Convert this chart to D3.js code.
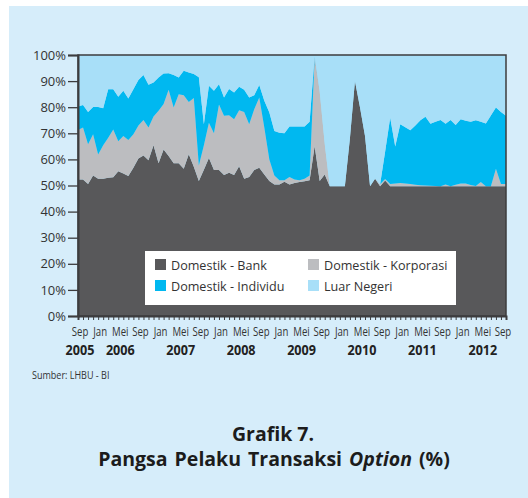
<!DOCTYPE html>
<html>
<head>
<meta charset="utf-8">
<script src="https://cdn.jsdelivr.net/npm/d3@7"></script>
<style>
  body { margin: 0; background: #fff; }
  svg { display: block; }
</style>
</head>
<body>
<div id="chart"></div>
<script>
// shares in percent, monthly from Sep 2005
var bank = [52.3, 52.3, 50.6, 53.8, 52.6, 52.6, 53.0, 53.2, 55.5, 54.6, 53.6, 56.8, 60.3, 61.5, 59.7, 65.4,
  58.5, 63.8, 61.3, 58.5, 58.5, 56.4, 62.0, 57.2, 51.7, 56.0, 60.5, 55.9, 55.9, 54.0, 54.9, 54.0,
  57.4, 52.6, 53.3, 55.9, 56.8, 54.2, 51.7, 50.4, 50.4, 51.4, 50.4, 51.0, 51.3, 51.6, 52.0, 65.0,
  51.7, 54.2, 49.7, 49.7, 49.7, 49.7, 68.0, 90.0, 80.0, 69.0, 49.7, 52.6, 49.7, 51.9, 49.7, 49.7,
  49.7, 49.7, 49.7, 49.7, 49.7, 49.7, 49.7, 49.7, 49.7, 49.7, 49.7, 49.7, 49.7, 49.7, 49.7, 49.7,
  49.7, 49.7, 49.7, 49.7, 49.7, 49.7];
var korporasi = [19.0, 19.9, 15.2, 15.8, 9.3, 12.8, 15.3, 18.3, 11.5, 14.4, 13.8, 12.8, 12.7, 13.6, 12.5, 11.0,
  20.1, 17.4, 25.4, 21.4, 26.5, 28.2, 20.0, 26.3, 6.0, 9.4, 13.5, 14.1, 25.1, 22.7, 22.0, 21.4,
  21.4, 25.6, 20.2, 23.3, 26.9, 18.0, 8.3, 3.4, 1.6, 0.6, 2.9, 1.3, 0.7, 1.0, 1.8, 34.1,
  34.3, 11.8, 0, 0, 0, 0, 0, 0, 0, 0, 0, 0, 0.8, 0.6, 0.9, 1.1,
  1.3, 1.1, 0.9, 0.6, 0.4, 0.3, 0.2, 0.1, 0, 0.7, 0, 0.6, 1.1, 1.1, 0.5, 0.1,
  1.6, 0, 0, 6.7, 0.9, 0.9];
var individu = [9.0, 8.6, 12.4, 10.5, 18.2, 14.2, 18.6, 15.4, 17.0, 17.3, 15.9, 17.3, 17.4, 17.2, 16.4, 13.1,
  12.8, 11.7, 6.3, 12.4, 6.4, 9.4, 11.3, 9.2, 33.8, 8.1, 14.2, 16.3, 7.8, 7.0, 10.1, 10.2,
  9.0, 8.5, 10.2, 5.4, 4.8, 10.3, 18.0, 17.1, 18.2, 18.0, 19.3, 20.3, 20.6, 20.0, 20.6, 0.4,
  0, 0, 0, 0, 0, 0, 0, 0, 0, 0, 0, 0, 0, 10.5, 25.4, 14.1,
  22.5, 21.5, 20.6, 22.7, 24.9, 26.3, 23.8, 24.6, 25.4, 23.3, 25.4, 22.9, 24.6, 24.0, 24.2, 25.2,
  23.1, 24.1, 27.1, 23.5, 27.6, 26.1];
var luarNegeri = [19.7, 19.2, 21.8, 19.9, 19.9, 20.4, 13.1, 13.1, 16.0, 13.7, 16.7, 13.1, 9.6, 7.7, 11.4, 10.5,
  8.6, 7.1, 7.0, 7.7, 8.6, 6.0, 6.7, 7.3, 8.5, 26.5, 11.8, 13.7, 11.2, 16.3, 13.0, 14.4,
  12.2, 13.3, 16.3, 15.4, 11.5, 17.5, 22.0, 29.1, 29.8, 30.0, 27.4, 27.4, 27.4, 27.4, 25.6, 0.5,
  14.0, 34.0, 50.3, 50.3, 50.3, 50.3, 32.0, 10.0, 20.0, 31.0, 50.3, 47.4, 49.5, 37.0, 24.0, 35.1,
  26.5, 27.7, 28.8, 27.0, 25.0, 23.7, 26.3, 25.6, 24.9, 26.3, 24.9, 26.8, 24.6, 25.2, 25.6, 25.0,
  25.6, 26.2, 23.2, 20.1, 21.8, 23.3];

var monthNames = ["Jan", "Feb", "Mar", "Apr", "Mei", "Jun", "Jul", "Agu", "Sep", "Okt", "Nov", "Des"];
var yTicks = [0, 10, 20, 30, 40, 50, 60, 70, 80, 90, 100];
var yearLabels = ["2005", "2006", "2007", "2008", "2009", "2010", "2011", "2012"];

var keys = ["bank", "korporasi", "individu", "luar"];
var names = ["Domestik - Bank", "Domestik - Korporasi", "Domestik - Individu", "Luar Negeri"];
var colors = ["#58585a", "#bcbdc0", "#00b8f0", "#a8dff8"];

// month categories: Sep 2005 onward
var months = bank.map(function(d, i) {
  var m = (8 + i) % 12, y = 2005 + Math.floor((8 + i) / 12);
  return { key: y + "-" + m, name: monthNames[m], year: y };
});

var rows = months.map(function(m, i) {
  return { month: m.key, bank: bank[i], korporasi: korporasi[i], individu: individu[i], luar: luarNegeri[i] };
});

var W = 528, H = 498;
var plot = { left: 78, top: 55, right: 506, bottom: 316 };
var FONT = "'Open Sans', sans-serif";

var svg = d3.select("#chart").append("svg")
  .attr("width", W).attr("height", H);

svg.append("rect").attr("x", 9).attr("y", 6).attr("width", W - 9).attr("height", H - 6)
  .attr("fill", "#d6edfa");

var x = d3.scalePoint()
  .domain(months.map(function(m) { return m.key; }))
  .range([plot.left, plot.right]);

var y = d3.scaleLinear().domain([0, 100]).range([plot.bottom, plot.top]);

var color = d3.scaleOrdinal().domain(keys).range(colors);

svg.append("rect")
  .attr("x", plot.left).attr("y", plot.top)
  .attr("width", plot.right - plot.left).attr("height", plot.bottom - plot.top)
  .attr("fill", "#a8dff8");

var stacked = d3.stack().keys(keys)(rows);

var area = d3.area()
  .x(function(d) { return x(d.data.month); })
  .y0(function(d) { return y(d[0]); })
  .y1(function(d) { return y(Math.min(d[1], 100)); });

svg.append("g")
  .selectAll("path")
  .data(stacked)
  .enter().append("path")
  .attr("fill", function(d) { return color(d.key); })
  .attr("d", area);

// frame
svg.append("rect")
  .attr("x", plot.left).attr("y", plot.top)
  .attr("width", plot.right - plot.left).attr("height", plot.bottom - plot.top)
  .attr("fill", "none").attr("stroke", "#3c3c3e").attr("stroke-width", 1.5);

// y axis
var yAxis = svg.append("g")
  .attr("transform", "translate(" + plot.left + ",0)")
  .call(d3.axisLeft(y).tickValues(yTicks).tickSize(10).tickPadding(2)
    .tickFormat(function(d) { return d + "%"; }));
yAxis.select(".domain").attr("stroke", "#3c3c3e").attr("stroke-width", 2);
yAxis.selectAll(".tick line").attr("stroke", "#3c3c3e").attr("stroke-width", 1.3);
yAxis.selectAll("text")
  .attr("font-family", FONT)
  .attr("font-size", 13).attr("fill", "#333");

// x axis: a tick every month, a label every 4 months
var xAxis = svg.append("g")
  .attr("transform", "translate(0," + plot.bottom + ")")
  .call(d3.axisBottom(x).tickSize(4).tickFormat(""));
xAxis.select(".domain").attr("stroke", "#3c3c3e").attr("stroke-width", 2);
xAxis.selectAll(".tick line").attr("stroke", "#3c3c3e").attr("stroke-width", 1);

// condensed look: squeeze the labels horizontally
var labelled = months.filter(function(m, i) { return i % 4 === 0; });
svg.append("g")
  .selectAll("text")
  .data(labelled)
  .enter().append("text")
  .attr("transform", function(d) { return "translate(" + (x(d.key) + 2) + ",335.5) scale(0.8,1)"; })
  .attr("text-anchor", "middle")
  .attr("font-family", FONT)
  .attr("font-size", 12)
  .attr("fill", "#333")
  .text(function(d) { return d.name; });

svg.append("g")
  .selectAll("text")
  .data(yearLabels)
  .enter().append("text")
  .attr("transform", function(d) {
    var key = d === "2005" ? "2005-8" : d + "-4";
    return "translate(" + (x(key) + 2) + ",354.5) scale(0.9,1)";
  })
  .attr("text-anchor", "middle")
  .attr("font-family", FONT)
  .attr("font-weight", "bold")
  .attr("font-size", 14)
  .attr("fill", "#222")
  .text(function(d) { return d; });

// legend
var legend = svg.append("g");
legend.append("rect")
  .attr("x", 145).attr("y", 251).attr("width", 311).attr("height", 54)
  .attr("fill", "#fff");

var item = legend.selectAll("g")
  .data(keys)
  .enter().append("g")
  .attr("transform", function(d, i) {
    return "translate(" + (i % 2 === 0 ? 155 : 308) + "," + (i < 2 ? 259 : 280) + ")";
  });
item.append("rect")
  .attr("width", 11).attr("height", 11)
  .attr("fill", color);
item.append("text")
  .attr("x", 16).attr("y", 10.5)
  .attr("font-family", FONT)
  .attr("font-size", 12.6).attr("fill", "#333")
  .text(function(d, i) { return names[i]; });

// source + title
svg.append("text")
  .attr("transform", "translate(32,379) scale(0.82,1)")
  .attr("font-family", FONT)
  .attr("font-size", 11).attr("fill", "#333")
  .text("Sumber: LHBU - BI");

svg.append("text")
  .attr("x", 273).attr("y", 441)
  .attr("text-anchor", "middle")
  .attr("font-family", FONT)
  .attr("font-weight", "bold").attr("font-size", 19.5).attr("fill", "#1c1c1c")
  .text("Grafik 7.");

var t2 = svg.append("text")
  .attr("x", 274).attr("y", 466)
  .attr("text-anchor", "middle")
  .attr("font-family", FONT)
  .attr("font-weight", "bold").attr("font-size", 19.5).attr("fill", "#1c1c1c")
  .attr("word-spacing", 2);
t2.append("tspan").text("Pangsa Pelaku Transaksi ");
t2.append("tspan").attr("font-style", "italic").text("Option");
t2.append("tspan").text(" (%)");
</script>
</body>
</html>
